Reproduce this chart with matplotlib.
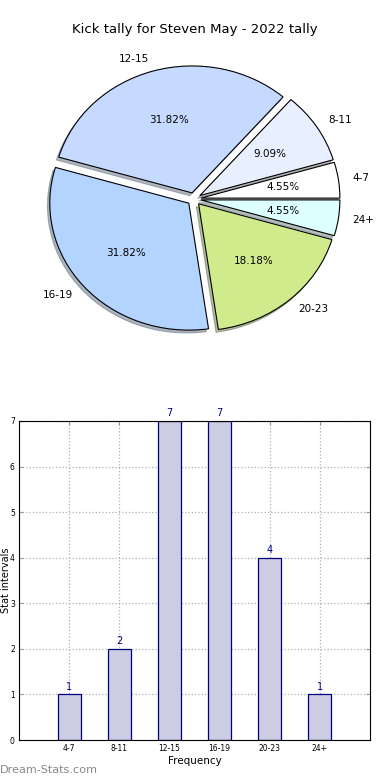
import matplotlib
matplotlib.use('Agg')
import matplotlib.pyplot as plt

# kick tally data
categories = ['4-7', '8-11', '12-15', '16-19', '20-23', '24+']
counts = [1, 2, 7, 7, 4, 1]
pie_colors = ['#ffffff', '#e8f0ff', '#c6d9ff', '#b3d4ff', '#d0eb8c', '#dcffff']
title = 'Kick tally for Steven May - 2022 tally'

fig = plt.figure(figsize=(3.9, 7.8), dpi=100)

# pie chart (top)
ax1 = fig.add_axes([0.0, 1 - 360 / 780, 1.0, 315 / 780])
ax1.pie(counts, labels=categories, colors=pie_colors, explode=[0.05] * len(counts),
        autopct='%1.2f%%', shadow={'ox': -0.012, 'oy': -0.016, 'shade': 0.5},
        startangle=0,
        wedgeprops={'edgecolor': 'black', 'linewidth': 0.8},
        textprops={'fontsize': 7.5})
ax1.set_aspect('auto')
ax1.set_xlim(-1.396, 1.410)
ax1.set_ylim(-1.268, 1.213)
ax1.axis('off')
fig.text(0.5, 1 - 30 / 780, title, ha='center', va='center', fontsize=9.5)

# bar chart (bottom)
ax2 = fig.add_axes([19 / 390, 1 - 740 / 780, 351 / 390, 319 / 780])
x = list(range(len(categories)))
ax2.bar(x, counts, width=0.46, color='#ccccE2', edgecolor='#000080', linewidth=0.9, zorder=2)
for xi, c in zip(x, counts):
    ax2.text(xi, c + 0.06, str(c), ha='center', va='bottom', fontsize=7, color='#000080')
ax2.set_xlim(-1, 6)
ax2.set_ylim(0, 7)
ax2.set_xticks(x)
ax2.set_xticklabels(categories)
ax2.set_yticks(range(8))
ax2.tick_params(labelsize=5.5, direction='in', top=True, right=True, length=3,
                color='#999999', pad=3)
ax2.grid(True, linestyle=':', color='#b0b0b0', linewidth=0.9, zorder=0)
ax2.set_xlabel('Frequency', fontsize=7.5, labelpad=2)
ax2.set_ylabel('Stat intervals', fontsize=7)
ax2.yaxis.set_label_coords(-0.0214, 0.5)

fig.text(0.0, 1 - 770 / 780, 'Dream-Stats.com', ha='left', va='center',
         fontsize=8.1, color='#888888')

fig.savefig('out.png', dpi=100)
